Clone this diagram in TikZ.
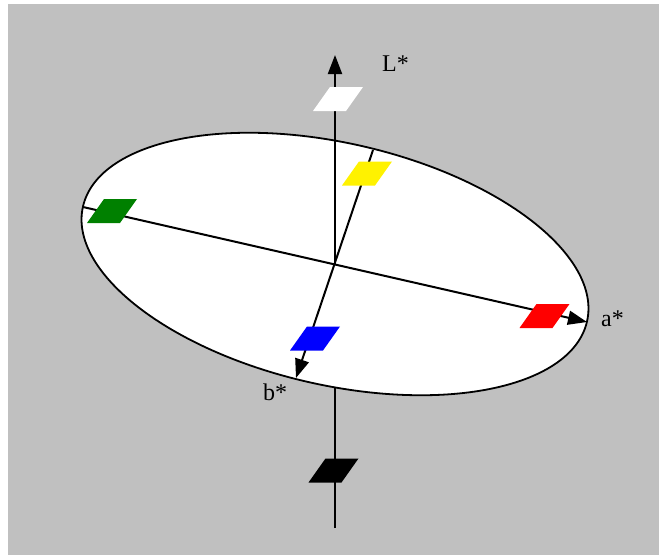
\documentclass[tikz,border=0pt]{standalone}
\usepackage{fontspec}
\setmainfont{Liberation Serif}
\usetikzlibrary{arrows.meta}
\definecolor{bg}{RGB}{192,192,192}
\definecolor{patchgreen}{RGB}{0,128,0}
\tikzset{
  axisline/.style={line width=2pt, -{Triangle[length=19pt,width=14pt]}},
  plainline/.style={line width=2pt},
  lbl/.style={font=\fontsize{24}{28}\selectfont, inner sep=0pt, anchor=base west},
  patch/.pic={\fill[#1] (-25,12) -- (8,12) -- (25,-12) -- (-8,-12) -- cycle;}
}
\begin{document}
\begin{tikzpicture}[x=1pt,y=-1pt]
\useasboundingbox (0,0) rectangle (659,555);
\fill[bg] (8,4) rectangle (659,555);
\coordinate (c) at (335,264);
\coordinate (Lbot) at (335,528);
\coordinate (Ltop) at (335,55);
\coordinate (Lrim) at (335,135);
\coordinate (aneg) at (83,207);
\coordinate (apos) at (587,322);
\coordinate (bneg) at (373,150);
\coordinate (bpos) at (296,378);
% L axis (lower part hidden by the disc)
\draw[axisline] (Lbot) -- (Ltop);
% disc
\draw[fill=white, line width=1.8pt, rotate around={-12.85:(c)}] (c) ellipse [x radius=258.5, y radius=121];
\draw[plainline] (c) -- (Lrim);
% a* and b* axes
\draw[axisline] (aneg) -- (apos);
\draw[axisline] (bneg) -- (bpos);
% colour patches
\pic at (338,99) {patch=white};
\pic at (367,173.5) {patch=yellow};
\pic at (112,211) {patch=patchgreen};
\pic at (544.5,316) {patch=red};
\pic at (315,338.5) {patch=blue};
\pic at (333.5,470.5) {patch=black};
% labels
\node[lbl] (Llab) at (382,71) {L*};
\node[lbl] (alab) at (601,326) {a*};
\node[lbl] (blab) at (263,400) {b*};
\end{tikzpicture}
\end{document}
